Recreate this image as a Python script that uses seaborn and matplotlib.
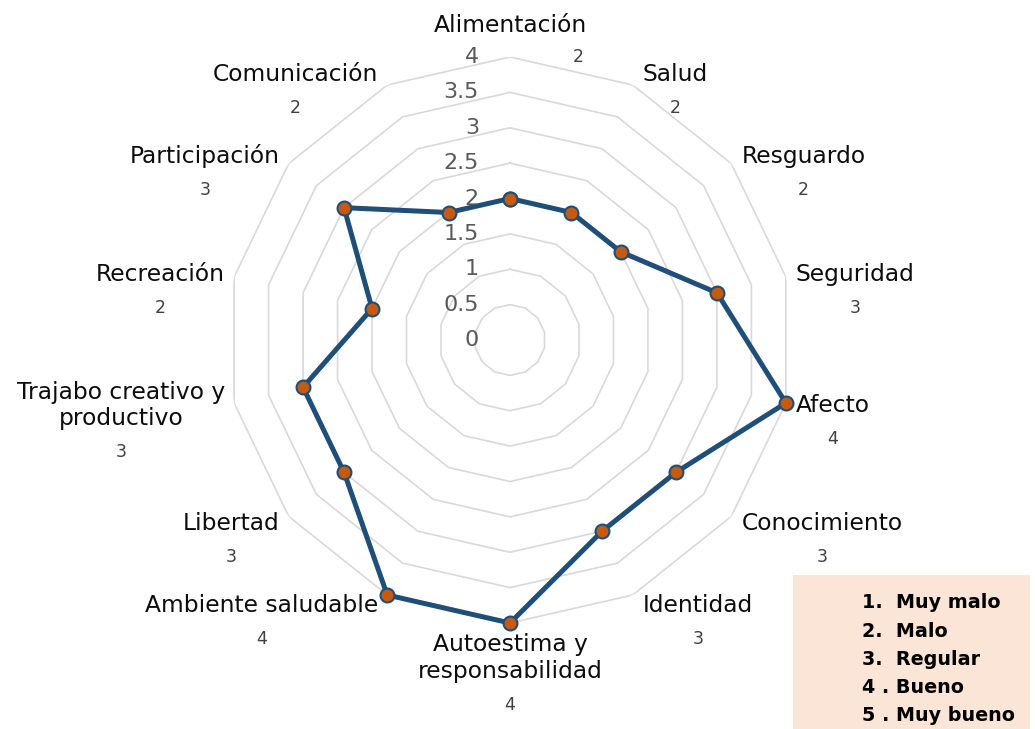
import numpy as np
import pandas as pd
import matplotlib
matplotlib.use("Agg")
import matplotlib.pyplot as plt
import seaborn as sns

# datos
categorias = ["Alimentación", "Salud", "Resguardo", "Seguridad", "Afecto",
              "Conocimiento", "Identidad", "Autoestima y\nresponsabilidad",
              "Ambiente saludable", "Libertad", "Trajabo creativo y\nproductivo",
              "Recreación", "Participación", "Comunicación"]
valores = [2, 2, 2, 3, 4, 3, 3, 4, 4, 3, 3, 2, 3, 2]
niveles = [0.5, 1, 1.5, 2, 2.5, 3, 3.5, 4]
ticks_radiales = [0, 0.5, 1, 1.5, 2, 2.5, 3, 3.5, 4]
leyenda = ["1.  Muy malo", "2.  Malo", "3.  Regular", "4 . Bueno", "5 . Muy bueno"]

sns.set_style("white")
plt.rcParams['font.family'] = ['DejaVu Sans']

n = len(categorias)
angulos = np.arange(n) * 2 * np.pi / n
rmax = 4

df = pd.DataFrame({"theta": np.append(angulos, 2 * np.pi),
                   "valor": valores + [valores[0]]})

fig = plt.figure(figsize=(10.35, 7.29), dpi=100)
ax = fig.add_axes([0.2193, 0.1454, 0.5469, 0.7764], projection="polar")
ax.set_theta_zero_location("N")
ax.set_theta_direction(-1)

# rejilla poligonal
cerrado = np.append(angulos, angulos[0])
for r in niveles:
    ax.plot(cerrado, [r] * len(cerrado), color="#D9D9D9", lw=1.2, zorder=1)

sns.lineplot(data=df, x="theta", y="valor", ax=ax, sort=False, estimator=None,
             color="#1F4E79", lw=3.6, marker="o", markersize=10,
             markerfacecolor="#C55A11", markeredgecolor="#1F4E79",
             markeredgewidth=1.5, zorder=3, clip_on=False)

ax.set_ylim(0, rmax)
ax.set_xticks([])
ax.set_yticks([])
ax.grid(False)
ax.spines["polar"].set_visible(False)
ax.set_xlabel("")
ax.set_ylabel("")

# etiquetas del eje radial
for t in ticks_radiales:
    ax.annotate(f"{t:g}", xy=(0, t), xytext=(-31, 0), textcoords="offset pixels",
                ha="right", va="center", fontsize=16, color="#595959", zorder=4)

# etiquetas de categoria
etiquetas = []
for ang, cat in zip(angulos, categorias):
    grados = np.degrees(ang)
    if np.isclose(grados, 0):
        ha, va, off = "center", "bottom", (0, 20)
    elif np.isclose(grados, 180):
        ha, va, off = "center", "top", (0, -10)
    elif grados < 180:
        ha, va, off = "left", "center", (10, 12 * np.cos(ang))
    else:
        ha, va, off = "right", "center", (-9, 12 * np.cos(ang))
    txt = ax.annotate(cat, xy=(ang, rmax), xytext=off, textcoords="offset pixels",
                      ha=ha, va=va, multialignment="center", fontsize=16.8,
                      color="#0D0D0D", annotation_clip=False)
    etiquetas.append(txt)

fig.canvas.draw()
ren = fig.canvas.get_renderer()
W, H = fig.bbox.width, fig.bbox.height

# etiquetas de valor
for ang, val, txt in zip(angulos, valores, etiquetas):
    if np.isclose(ang, 0):
        ax.annotate(str(val), xy=(ang, rmax), xytext=(68, 0), textcoords="offset pixels",
                    ha="center", va="center", fontsize=12.5, color="#404040",
                    annotation_clip=False)
    else:
        bb = txt.get_window_extent(ren)
        cx = (bb.x0 + bb.x1) / 2
        cy = bb.y0 - 22
        fig.text(cx / W, cy / H, str(val), ha="center", va="center",
                 fontsize=12.5, color="#404040")

# cuadro de escala
fig.patches.append(plt.Rectangle((793 / W, 0), 237 / W, 154 / H, transform=fig.transFigure,
                                 facecolor="#FBE5D6", edgecolor="none", zorder=0))
for i, item in enumerate(leyenda):
    fig.text(862 / W, 1 - (603 + 28.2 * i) / H, item, ha="left", va="center",
             fontsize=13.8, fontweight="bold", color="#000000")

fig.savefig("out.png", dpi=100)
